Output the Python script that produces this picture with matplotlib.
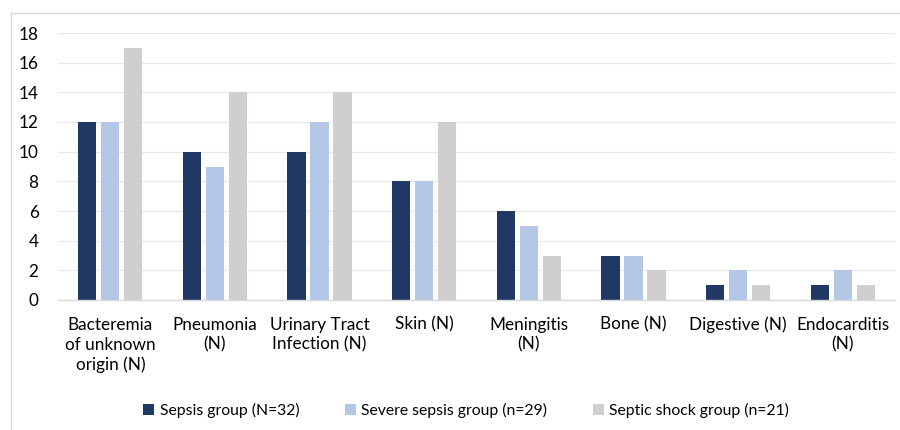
import matplotlib
matplotlib.use("Agg")
import matplotlib.pyplot as plt
import numpy as np
from matplotlib.lines import Line2D

CATEGORIES = ["Bacteremia\nof unknown\norigin (N)", "Pneumonia\n(N)", "Urinary Tract\nInfection (N)",
              "Skin (N)", "Meningitis\n(N)", "Bone (N)", "Digestive (N)", "Endocarditis\n(N)"]
SEPSIS = [12, 10, 10, 8, 6, 3, 1, 1]
SEVERE = [12, 9, 12, 8, 5, 3, 2, 2]
SHOCK = [17, 14, 14, 12, 3, 2, 1, 1]
SERIES_LABELS = ["Sepsis group (N=32)", "Severe sepsis group (n=29)", "Septic shock group (n=21)"]
YTICKS = list(range(0, 19, 2))

C_DARK, C_LIGHT, C_GRAY = "#203864", "#b4c7e7", "#d0cece"
INK = "#000000"
GRID = "#e8e8e8"

plt.rcParams["font.family"] = ["Lato", "DejaVu Sans"]

fig = plt.figure(figsize=(9, 4.3), dpi=100)
ax = fig.add_axes([58 / 900, 1 - 300 / 430, (895 - 58) / 900, (300 - 33) / 430])

x = np.arange(len(CATEGORIES))
w, step = 0.175, 0.22
for off, vals, col, lab in [(-step, SEPSIS, C_DARK, SERIES_LABELS[0]),
                            (0, SEVERE, C_LIGHT, SERIES_LABELS[1]),
                            (step, SHOCK, C_GRAY, SERIES_LABELS[2])]:
    ax.bar(x + off, vals, w, color=col, label=lab, zorder=2)

ax.set_xlim(-0.5, len(CATEGORIES) - 0.5)
ax.set_ylim(0, 18)
ax.set_yticks(YTICKS)
ax.yaxis.grid(True, color=GRID, lw=0.9, zorder=0)
ax.set_axisbelow(True)
for s in ["top", "right", "left"]:
    ax.spines[s].set_visible(False)
ax.spines["bottom"].set_color("#d9d9d9")
ax.spines["bottom"].set_linewidth(1.0)
ax.tick_params(axis="both", length=0, labelsize=12.3, colors=INK)
ax.tick_params(axis="y", pad=14)
ax.tick_params(axis="x", pad=12)
ax.set_xticks(x)
ax.set_xticklabels(CATEGORIES, linespacing=1.3)

fig.legend(loc="center", bbox_to_anchor=(0.518, 0.045), ncol=3, frameon=False,
           fontsize=11.3, handlelength=0.7, handleheight=0.7, handletextpad=0.35,
           columnspacing=2.9)

# light frame around the chart area
fig.add_artist(Line2D([10.5 / 900, 10.5 / 900], [0, 1 - 13 / 430], color="#d9d9d9", lw=1,
                      transform=fig.transFigure))
fig.add_artist(Line2D([10.5 / 900, 1], [1 - 13 / 430, 1 - 13 / 430], color="#d9d9d9", lw=1,
                      transform=fig.transFigure))

fig.savefig("out.png", dpi=100, facecolor="white")
